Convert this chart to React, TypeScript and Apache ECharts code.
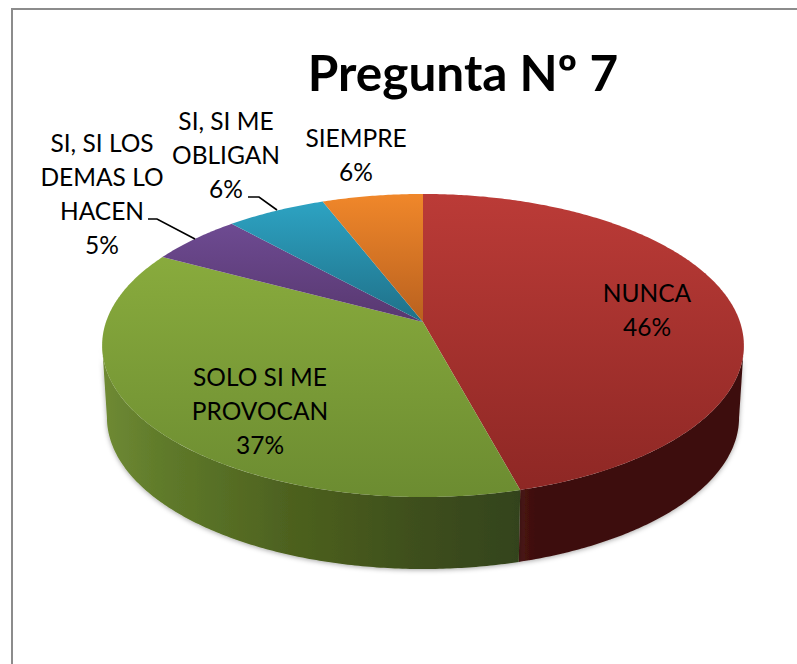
import React, { useEffect, useRef } from "react";
import * as echarts from "echarts";

const titleText = "Pregunta Nº 7";
const categories = ["NUNCA", "SOLO SI ME\nPROVOCAN", "SI, SI LOS\nDEMAS LO\nHACEN", "SI, SI ME\nOBLIGAN", "SIEMPRE"];
const values = [45.8, 37.0, 5.45, 5.85, 5.9];

// Layout and style (not data)
const FONT = "Lato, 'Open Sans', sans-serif";
const CX = 423, CY = 322, A = 147.9, B = 317, K = -0.155, DEPTH = 72, BOTTOM_SCALE = 0.985;
const topStops = [
  ["#bb3b37", "#8d2724"],
  ["#90b340", "#6c8c31"],
  ["#74509c", "#583870"],
  ["#2ea6c6", "#1f7088"],
  ["#f0872a", "#b9611f"],
];
const redWall = [
  { offset: 0, color: "#3c100d" },
  { offset: 0.93, color: "#3d100e" },
  { offset: 1, color: "#4a1313" },
];
const greenWall = [
  { offset: 0, color: "#33431a" },
  { offset: 0.25, color: "#3e4f1b" },
  { offset: 0.55, color: "#4d611f" },
  { offset: 0.85, color: "#5f7a2a" },
  { offset: 1, color: "#6f8a34" },
];
const labelPos = [[647, 309], [260, 410], [102, 193], [226, 154], [356, 154]];
const leaders = [
  null, null,
  [[148, 219], [157, 219], [195, 239]],
  [[248, 197], [259, 197], [277, 210]],
  null,
];

function rim(theta: number): [number, number] {
  const u = -Math.cos(theta), v = Math.sin(theta), d = 1 + K * u;
  return [CX + (B * v) / d, CY + (A * u) / d];
}
function arc(a: number, b: number): [number, number][] {
  const n = Math.max(2, Math.ceil(Math.abs(b - a) / 0.01));
  const out: [number, number][] = [];
  for (let i = 0; i <= n; i++) out.push(rim(a + ((b - a) * i) / n));
  return out;
}

const total = values.reduce((s, v) => s + v, 0);
const VIS_A = Math.acos(K), VIS_B = 2 * Math.PI - Math.acos(K);

function renderItem(params: any, api: any) {
  const i = params.dataIndex;
  const val = api.value(0);
  let before = 0;
  for (let j = 0; j < i; j++) before += values[j];
  const a0 = (before / total) * 2 * Math.PI;
  const a1 = ((before + val) / total) * 2 * Math.PI;
  const children: any[] = [];

  const wa = Math.max(a0, VIS_A), wb = Math.min(a1, VIS_B);
  if (wb > wa) {
    const t = arc(wa, wb);
    const bottom = t.map(([x, y]) => [CX + (x - CX) * BOTTOM_SCALE, y + DEPTH]).reverse();
    const xs = t.map((p) => p[0]);
    children.push({
      type: "polygon",
      shape: { points: [...t, ...bottom] },
      style: {
        fill: new echarts.graphic.LinearGradient(
          Math.max(...xs), 0, Math.min(...xs), 0,
          i === 0 ? redWall : greenWall,
          true
        ),
        shadowBlur: 5,
        shadowColor: "rgba(0,0,0,0.35)",
        shadowOffsetY: 1,
      },
    });
  }

  children.push({
    type: "polygon",
    shape: { points: [[CX, CY], ...arc(a0, a1)] },
    style: {
      fill: new echarts.graphic.LinearGradient(
        0, 194, 0, i < 2 ? 497 : 322,
        [{ offset: 0, color: topStops[i][0] }, { offset: 1, color: topStops[i][1] }],
        true
      ),
    },
  });

  const lead = leaders[i];
  if (lead) {
    children.push({
      type: "polyline",
      shape: { points: lead },
      style: { stroke: "#000", lineWidth: 1.6, fill: "none" },
    });
  }

  children.push({
    type: "text",
    x: labelPos[i][0],
    y: labelPos[i][1],
    style: {
      text: `${categories[i]}\n${Math.round(val)}%`,
      fill: "#000",
      font: `24.5px ${FONT}`,
      lineHeight: 34,
      align: "center",
      verticalAlign: "middle",
    },
  });

  return { type: "group", children };
}

export default function App() {
  const ref = useRef<HTMLDivElement>(null);
  useEffect(() => {
    const chart = echarts.init(ref.current!, null, { renderer: "svg" });
    chart.setOption({
      animation: false,
      backgroundColor: "#fff",
      title: {
        text: titleText,
        left: 458,
        top: 42,
        textAlign: "center",
        textStyle: { fontFamily: FONT, fontWeight: "bold", fontSize: 49.5, color: "#000" },
      },
      graphic: [
        {
          type: "polyline",
          shape: { points: [[12, 664], [12, 9], [797, 9]] },
          style: { stroke: "#8c8c8c", lineWidth: 2, fill: "none" },
          z: -1,
        },
      ],
      series: [
        {
          type: "custom",
          coordinateSystem: "none",
          renderItem,
          data: values.map((v, i) => ({ name: categories[i], value: [v] })),
          silent: true,
        },
      ],
    });
    return () => chart.dispose();
  }, []);
  return <div ref={ref} style={{ position: "fixed", left: 0, top: 0, width: 797, height: 664 }} />;
}
